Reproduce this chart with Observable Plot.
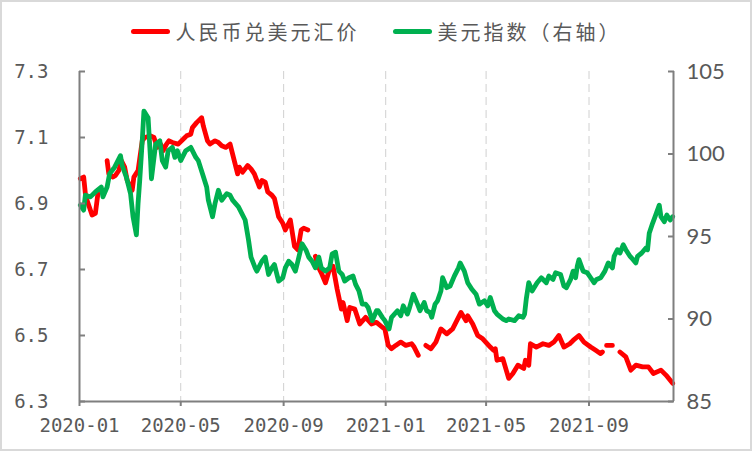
<!DOCTYPE html>
<html>
<head>
<meta charset="utf-8">
<script src="https://cdn.jsdelivr.net/npm/d3@7"></script>
<script src="https://cdn.jsdelivr.net/npm/@observablehq/plot@0.6"></script>
<style>
  html, body { margin: 0; padding: 0; background: #fff; }
  #wrap { position: relative; width: 752px; height: 451px; overflow: hidden; background: #fff; }
  #frame { position: absolute; left: 0; top: 0; width: 752px; height: 451px; box-sizing: border-box; border: 2px solid #d9d9d9; pointer-events: none; }
  #legend { position: absolute; left: 0; top: 0; width: 752px; height: 62px; display: flex; justify-content: center; align-items: center; font-family: "Noto Sans CJK SC", sans-serif; font-size: 20px; color: #595959; z-index: 2; }
  .item { display: flex; align-items: center; }
  .sw { width: 39px; height: 5px; border-radius: 3px; margin-right: 6px; }
  .lab { letter-spacing: 3px; }
  #chart { position: absolute; left: 0; top: 30px; z-index: 1; }
</style>
</head>
<body>
<div id="wrap">
  <div id="chart"></div>
  <div id="legend"></div>
  <div id="frame"></div>
</div>
<script>
// ---------- data ----------
const seriesNames = ["人民币兑美元汇价", "美元指数（右轴）"];
const seriesColors = ["#ff0000", "#00b050"];

// USD/CNY (left axis); null = market closed (gap)
const cnyDates = [
  "2020-01-02","2020-01-06","2020-01-08","2020-01-10","2020-01-16","2020-01-20","2020-01-22","2020-01-23","2020-01-28",
  "2020-02-03","2020-02-05","2020-02-10","2020-02-13","2020-02-17","2020-02-20","2020-02-24","2020-02-27",
  "2020-03-04","2020-03-06","2020-03-11","2020-03-16","2020-03-19","2020-03-26","2020-03-30",
  "2020-04-03","2020-04-07","2020-04-10","2020-04-14","2020-04-17","2020-04-21","2020-04-28",
  "2020-05-06","2020-05-08","2020-05-13","2020-05-15","2020-05-20","2020-05-26","2020-05-28",
  "2020-06-02","2020-06-05","2020-06-11","2020-06-15","2020-06-19","2020-06-24","2020-06-29",
  "2020-07-03","2020-07-08","2020-07-10","2020-07-14","2020-07-20","2020-07-24","2020-07-28",
  "2020-08-03","2020-08-06","2020-08-10","2020-08-13","2020-08-18","2020-08-21","2020-08-26","2020-08-31",
  "2020-09-03","2020-09-09","2020-09-14","2020-09-18","2020-09-22","2020-09-25","2020-09-30","2020-10-04",
  "2020-10-09","2020-10-12","2020-10-16","2020-10-21","2020-10-27","2020-10-30",
  "2020-11-04","2020-11-09","2020-11-11","2020-11-16","2020-11-19","2020-11-25",
  "2020-12-01","2020-12-08","2020-12-15","2020-12-21","2020-12-28","2020-12-31",
  "2021-01-04","2021-01-08","2021-01-13","2021-01-19","2021-01-25",
  "2021-02-01","2021-02-04","2021-02-09","2021-02-14","2021-02-18","2021-02-24",
  "2021-03-02","2021-03-08","2021-03-15","2021-03-22",
  "2021-04-01","2021-04-07","2021-04-09","2021-04-15","2021-04-21","2021-04-27",
  "2021-05-06","2021-05-10","2021-05-12","2021-05-14","2021-05-21","2021-05-28",
  "2021-06-02","2021-06-08","2021-06-15","2021-06-17","2021-06-21","2021-06-23","2021-06-30",
  "2021-07-08","2021-07-15","2021-07-21","2021-07-27",
  "2021-08-02","2021-08-09","2021-08-13","2021-08-20","2021-08-26",
  "2021-09-03","2021-09-09","2021-09-15","2021-09-17","2021-09-20","2021-09-22","2021-09-29","2021-10-04",
  "2021-10-08","2021-10-15","2021-10-21","2021-10-27",
  "2021-11-04","2021-11-11","2021-11-17","2021-11-26","2021-12-02","2021-12-10"
];
const cnyRate = [
  6.975,6.98,6.93,6.91,6.865,6.87,6.91,6.93,null,
  7.03,6.99,6.98,6.985,7.00,7.03,7.01,6.97,
  6.94,6.98,7.00,7.09,7.10,7.105,7.10,
  7.07,7.08,7.06,7.08,7.09,7.085,7.08,
  7.10,7.105,7.11,7.13,7.145,7.16,7.135,
  7.09,7.08,7.09,7.085,7.075,7.07,7.08,
  7.04,6.99,7.01,6.995,7.015,7.005,6.99,
  6.95,6.97,6.965,6.935,6.925,6.915,6.86,6.84,
  6.82,6.85,6.77,6.76,6.82,6.825,6.82,null,
  6.74,6.71,6.69,6.66,6.71,6.71,
  6.64,6.58,6.60,6.545,6.585,6.58,
  6.535,6.555,6.535,6.54,6.525,6.52,
  6.47,6.46,6.47,6.48,6.47,
  6.475,6.465,6.44,null,6.47,6.46,
  6.48,6.52,6.505,6.52,
  6.57,6.545,6.56,6.535,6.50,6.49,
  6.465,6.455,6.46,6.425,6.43,6.37,
  6.385,6.41,6.40,6.425,6.41,6.475,6.465,
  6.475,6.47,6.48,6.50,
  6.465,6.475,6.485,6.50,6.48,
  6.465,6.455,6.445,6.45,null,6.47,6.47,null,
  6.45,6.435,6.395,6.41,
  6.405,6.405,6.385,6.395,6.38,6.355
];

// US dollar index (right axis)
const dxyDates = [
  "2020-01-02","2020-01-06","2020-01-08","2020-01-14","2020-01-20","2020-01-27","2020-01-29",
  "2020-02-03","2020-02-06","2020-02-12","2020-02-19","2020-02-21","2020-02-26",
  "2020-03-02","2020-03-05","2020-03-09","2020-03-11","2020-03-13","2020-03-16","2020-03-18","2020-03-23","2020-03-26","2020-03-27",
  "2020-04-01","2020-04-06","2020-04-09","2020-04-13","2020-04-16","2020-04-21","2020-04-24","2020-04-27",
  "2020-05-01","2020-05-07","2020-05-13","2020-05-19","2020-05-22","2020-05-27",
  "2020-06-01","2020-06-03","2020-06-08","2020-06-11","2020-06-15","2020-06-19","2020-06-25","2020-06-29",
  "2020-07-02","2020-07-09","2020-07-17","2020-07-21","2020-07-24","2020-07-29","2020-07-31",
  "2020-08-06","2020-08-10","2020-08-14","2020-08-18","2020-08-21","2020-08-26","2020-08-31",
  "2020-09-03","2020-09-07","2020-09-11","2020-09-15","2020-09-18","2020-09-23","2020-09-28",
  "2020-10-01","2020-10-05","2020-10-09","2020-10-13","2020-10-16","2020-10-21","2020-10-26","2020-10-29",
  "2020-11-02","2020-11-06","2020-11-10","2020-11-13","2020-11-18","2020-11-23","2020-11-26","2020-11-30",
  "2020-12-04","2020-12-08","2020-12-11","2020-12-16","2020-12-21","2020-12-23","2020-12-28","2020-12-31",
  "2021-01-05","2021-01-08","2021-01-15","2021-01-19","2021-01-22","2021-01-27","2021-01-29",
  "2021-02-03","2021-02-08","2021-02-11","2021-02-16","2021-02-19","2021-02-23","2021-02-25",
  "2021-03-01","2021-03-04","2021-03-08","2021-03-10","2021-03-15","2021-03-19","2021-03-24","2021-03-29","2021-03-31",
  "2021-04-05","2021-04-09","2021-04-14","2021-04-19","2021-04-23","2021-04-29",
  "2021-05-03","2021-05-06","2021-05-11","2021-05-14","2021-05-21","2021-05-25","2021-05-28",
  "2021-06-04","2021-06-09","2021-06-14","2021-06-16","2021-06-18","2021-06-21","2021-06-25",
  "2021-07-01","2021-07-06","2021-07-12","2021-07-15","2021-07-20","2021-07-23","2021-07-29",
  "2021-08-02","2021-08-05","2021-08-10","2021-08-13","2021-08-16","2021-08-18","2021-08-20","2021-08-25","2021-08-30",
  "2021-09-03","2021-09-07","2021-09-10","2021-09-15","2021-09-20","2021-09-24","2021-09-29",
  "2021-10-01","2021-10-05","2021-10-08","2021-10-12","2021-10-15","2021-10-20","2021-10-22","2021-10-27","2021-10-29",
  "2021-11-03","2021-11-08","2021-11-10","2021-11-12","2021-11-16","2021-11-19","2021-11-24","2021-11-26","2021-11-30",
  "2021-12-03","2021-12-07","2021-12-10"
];
const dxyIndex = [
  96.9,96.6,97.5,97.4,97.7,98.0,97.4,
  98.0,98.8,99.2,99.9,99.3,98.6,
  97.6,96.2,95.1,97.0,98.4,100.8,102.6,102.2,99.6,98.5,
  100.6,100.8,99.6,99.2,100.2,100.4,99.8,100.2,
  99.6,100.2,100.4,99.8,99.6,98.8,
  98.0,97.2,96.2,97.0,97.8,97.2,97.6,97.5,
  97.2,96.8,96.0,94.8,93.75,93.1,92.9,
  93.5,93.75,92.7,93.1,93.3,92.3,92.5,
  93.1,93.5,93.3,92.9,93.5,94.56,94.15,
  93.75,93.5,93.1,93.75,93.1,92.9,93.1,93.95,
  94.05,92.9,92.7,92.3,92.5,92.6,92.1,91.7,
  90.9,90.9,90.7,89.9,90.5,90.5,90.1,89.9,
  89.4,90.1,90.5,90.2,90.8,90.3,90.6,
  91.5,90.9,90.5,91.0,90.5,90.4,90.1,
  90.9,91.1,91.7,92.5,91.9,92.0,92.6,93.1,93.4,
  92.9,92.2,91.8,91.5,90.9,91.1,
  90.8,91.3,90.5,90.3,90.0,89.9,90.0,
  89.9,90.2,90.1,90.3,91.2,92.2,91.7,
  92.2,92.5,92.2,92.6,92.4,92.8,92.7,
  92.0,91.9,92.4,92.9,92.5,93.2,93.6,92.9,92.8,
  92.5,92.2,92.4,92.5,92.9,93.4,93.1,
  93.8,94.2,94.0,94.5,94.2,93.8,93.7,93.4,93.8,
  94.0,94.3,94.2,95.2,95.8,96.2,96.9,96.2,95.9,
  96.3,96.0,96.2
];

// axes
const xDomain = ["2020-01-01", "2021-12-11"];
const xTicks = ["2020-01-01", "2020-05-01", "2020-09-01", "2021-01-01", "2021-05-01", "2021-09-01"];
const leftTicks = [6.3, 6.5, 6.7, 6.9, 7.1, 7.3];
const rightTicks = [85, 90, 95, 100, 105];

// ---------- build ----------
const parse = d3.utcParse("%Y-%m-%d");
const cny = cnyDates.map((d, i) => ({date: parse(d), value: cnyRate[i]}));
const dxy = dxyDates.map((d, i) => ({date: parse(d), value: dxyIndex[i]}));
const xd = xDomain.map(parse);
const xt = xTicks.map(parse);

// map right-axis values onto the left-axis scale
const L0 = leftTicks[0], L1 = leftTicks[leftTicks.length - 1];
const R0 = rightTicks[0], R1 = rightTicks[rightTicks.length - 1];
const toLeft = v => v == null ? null : L0 + (v - R0) * (L1 - L0) / (R1 - R0);
const toRight = y => R0 + (y - L0) * (R1 - R0) / (L1 - L0);

// legend
const legend = document.getElementById("legend");
seriesNames.forEach((name, i) => {
  const it = document.createElement("div");
  it.className = "item";
  if (i > 0) it.style.marginLeft = "33px";
  it.innerHTML = `<span class="sw" style="background:${seriesColors[i]}"></span><span class="lab">${name}</span>`;
  legend.appendChild(it);
});

const axisStroke = "#7f7f7f";
const textFill = "#595959";
const monoFont = "'DejaVu Sans Mono', monospace";

const chart = Plot.plot({
  width: 752,
  height: 421,
  marginLeft: 79,
  marginRight: 79,
  marginTop: 41,
  marginBottom: 50,
  style: {background: "transparent", color: textFill},
  x: {type: "utc", domain: xd, label: null},
  y: {domain: [L0, L1], label: null},
  marks: [
    Plot.gridX(xt.slice(1), {stroke: "#d0d0d0", strokeOpacity: 1, strokeWidth: 1, strokeDasharray: "8,5"}),
    Plot.line(cny, {x: "date", y: "value", stroke: seriesColors[0], strokeWidth: 4.8, strokeLinejoin: "round", strokeLinecap: "round"}),
    Plot.line(dxy, {x: "date", y: d => toLeft(d.value), stroke: seriesColors[1], strokeWidth: 4.8, strokeLinejoin: "round", strokeLinecap: "round"}),
    Plot.ruleY([L0], {stroke: axisStroke, strokeWidth: 2}),
    Plot.ruleX([xd[0]], {stroke: axisStroke, strokeWidth: 2}),
    Plot.ruleX([xd[1]], {stroke: axisStroke, strokeWidth: 2}),
    Plot.axisX({ticks: xt, tickFormat: d3.utcFormat("%Y-%m"), tickSize: 5, tickPadding: 12, stroke: axisStroke, strokeWidth: 2, fill: textFill, fontSize: 19, fontFamily: monoFont, label: null}),
    Plot.axisY({ticks: leftTicks, tickSize: 6, dx: 6, stroke: axisStroke, strokeWidth: 2, fill: "none", label: null}),
    Plot.axisY({ticks: leftTicks, tickSize: 0, tickPadding: 31, tickFormat: d3.format(".1f"), fill: textFill, fontSize: 19, fontFamily: monoFont, label: null}),
    Plot.axisY({anchor: "right", ticks: rightTicks.map(toLeft), tickSize: 6, dx: -6, stroke: axisStroke, strokeWidth: 2, fill: "none", label: null}),
    Plot.axisY({anchor: "right", ticks: rightTicks.map(toLeft), tickSize: 0, tickPadding: 13, tickFormat: y => d3.format(".0f")(toRight(y)), fill: textFill, fontSize: 22, fontFamily: "Lato, sans-serif", label: null})
  ]
});
document.getElementById("chart").appendChild(chart);
</script>
</body>
</html>
